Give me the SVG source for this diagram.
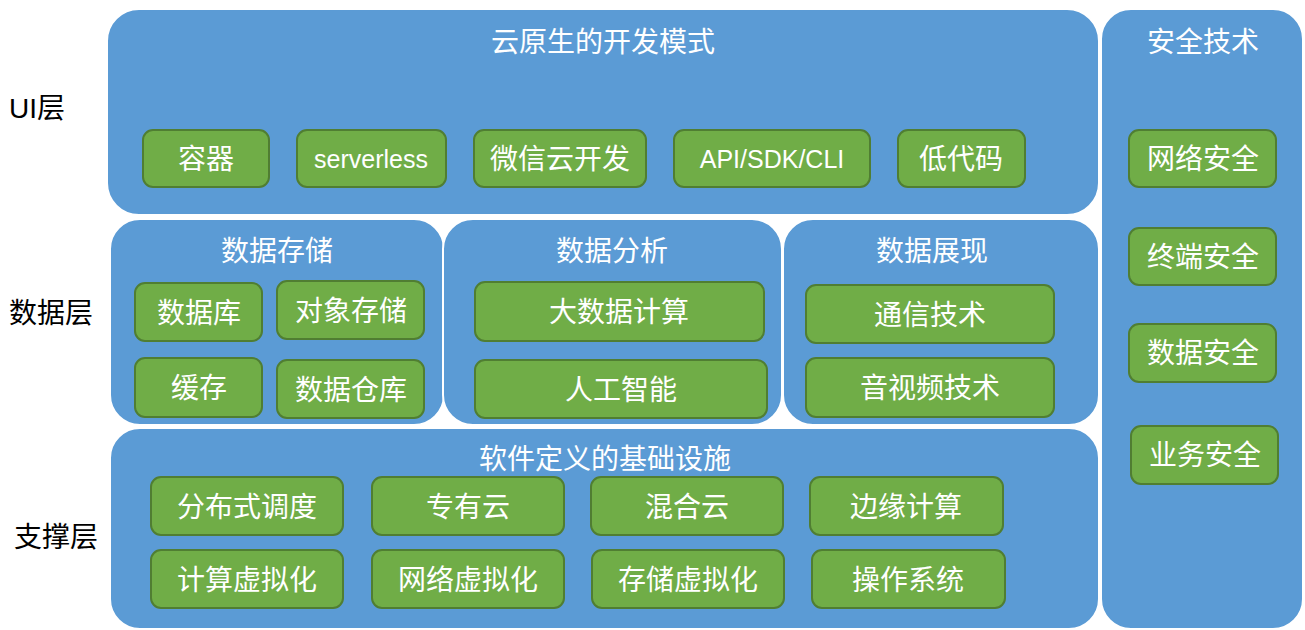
<svg xmlns="http://www.w3.org/2000/svg" width="1305" height="630" viewBox="0 0 1305 630">
<style>
.panel{fill:#5B9BD5;stroke:#ffffff;stroke-width:2}
.box{fill:#70AD47;stroke:#507E32;stroke-width:2}
text{font-family:"Liberation Sans","Noto Sans CJK SC",sans-serif;font-size:28px;text-anchor:middle;dominant-baseline:central}
.w{fill:#ffffff}
.lat{font-size:25px}
.lbl{fill:#000000;text-anchor:start}
</style>
<rect width="1305" height="630" fill="#ffffff"/>
<g id="labels">
<text class="lbl" x="9" y="108">UI层</text>
<text class="lbl" x="9" y="313">数据层</text>
<text class="lbl" x="14" y="537">支撑层</text>
</g>
<g id="ui-layer">
<rect class="panel" x="107" y="9" width="992" height="206" rx="32"/>
<text class="w" x="603" y="42">云原生的开发模式</text>
</g>
<g id="n-rongqi"><rect class="box" x="143" y="130" width="126" height="57" rx="10"/><text class="w" x="206" y="159">容器</text></g>
<g id="n-serverless"><rect class="box" x="297" y="130" width="149" height="57" rx="10"/><text class="w lat" x="371" y="159">serverless</text></g>
<g id="n-weixin"><rect class="box" x="474" y="130" width="172" height="57" rx="10"/><text class="w" x="560" y="159">微信云开发</text></g>
<g id="n-api"><rect class="box" x="674" y="130" width="196" height="57" rx="10"/><text class="w lat" x="772" y="159">API/SDK/CLI</text></g>
<g id="n-lowcode"><rect class="box" x="898" y="130" width="127" height="57" rx="10"/><text class="w" x="961" y="159">低代码</text></g>

<g id="data-storage">
<rect class="panel" x="110" y="219" width="334" height="206" rx="30"/>
<text class="w" x="277" y="251">数据存储</text>
</g>
<g id="n-db"><rect class="box" x="135" y="283" width="127" height="58" rx="10"/><text class="w" x="199" y="313">数据库</text></g>
<g id="n-obj"><rect class="box" x="277" y="281" width="147" height="58" rx="10"/><text class="w" x="351" y="311">对象存储</text></g>
<g id="n-cache"><rect class="box" x="135" y="358" width="127" height="59" rx="10"/><text class="w" x="199" y="388">缓存</text></g>
<g id="n-dw"><rect class="box" x="277" y="360" width="147" height="58" rx="10"/><text class="w" x="351" y="390">数据仓库</text></g>

<g id="data-analysis">
<rect class="panel" x="443" y="219" width="339" height="206" rx="30"/>
<text class="w" x="612" y="251">数据分析</text>
</g>
<g id="n-bigdata"><rect class="box" x="475" y="282" width="289" height="59" rx="10"/><text class="w" x="619" y="312">大数据计算</text></g>
<g id="n-ai"><rect class="box" x="475" y="360" width="292" height="58" rx="10"/><text class="w" x="621" y="390">人工智能</text></g>

<g id="data-present">
<rect class="panel" x="783" y="219" width="316" height="206" rx="30"/>
<text class="w" x="932" y="251">数据展现</text>
</g>
<g id="n-comm"><rect class="box" x="806" y="285" width="248" height="58" rx="10"/><text class="w" x="930" y="315">通信技术</text></g>
<g id="n-av"><rect class="box" x="806" y="358" width="248" height="59" rx="10"/><text class="w" x="930" y="388">音视频技术</text></g>

<g id="support-layer">
<rect class="panel" x="110" y="428" width="989" height="201" rx="30"/>
<text class="w" x="605" y="459">软件定义的基础设施</text>
</g>
<g id="n-sched"><rect class="box" x="151" y="477" width="192" height="58" rx="10"/><text class="w" x="247" y="507">分布式调度</text></g>
<g id="n-private"><rect class="box" x="372" y="477" width="192" height="58" rx="10"/><text class="w" x="468" y="507">专有云</text></g>
<g id="n-hybrid"><rect class="box" x="591" y="477" width="192" height="58" rx="10"/><text class="w" x="687" y="507">混合云</text></g>
<g id="n-edge"><rect class="box" x="810" y="477" width="193" height="58" rx="10"/><text class="w" x="906" y="507">边缘计算</text></g>
<g id="n-cvirt"><rect class="box" x="151" y="550" width="192" height="58" rx="10"/><text class="w" x="247" y="580">计算虚拟化</text></g>
<g id="n-nvirt"><rect class="box" x="372" y="550" width="192" height="58" rx="10"/><text class="w" x="468" y="580">网络虚拟化</text></g>
<g id="n-svirt"><rect class="box" x="592" y="550" width="192" height="58" rx="10"/><text class="w" x="688" y="580">存储虚拟化</text></g>
<g id="n-os"><rect class="box" x="812" y="550" width="193" height="58" rx="10"/><text class="w" x="908" y="580">操作系统</text></g>

<g id="security">
<rect class="panel" x="1101" y="9" width="202" height="620" rx="30"/>
<text class="w" x="1203" y="42">安全技术</text>
</g>
<g id="n-netsec"><rect class="box" x="1129" y="130" width="147" height="57" rx="10"/><text class="w" x="1203" y="159">网络安全</text></g>
<g id="n-termsec"><rect class="box" x="1129" y="228" width="147" height="57" rx="10"/><text class="w" x="1203" y="257">终端安全</text></g>
<g id="n-datasec"><rect class="box" x="1129" y="324" width="147" height="58" rx="10"/><text class="w" x="1203" y="353">数据安全</text></g>
<g id="n-bizsec"><rect class="box" x="1131" y="426" width="147" height="58" rx="10"/><text class="w" x="1205" y="455">业务安全</text></g>
<g id="connectors"></g>
</svg>
